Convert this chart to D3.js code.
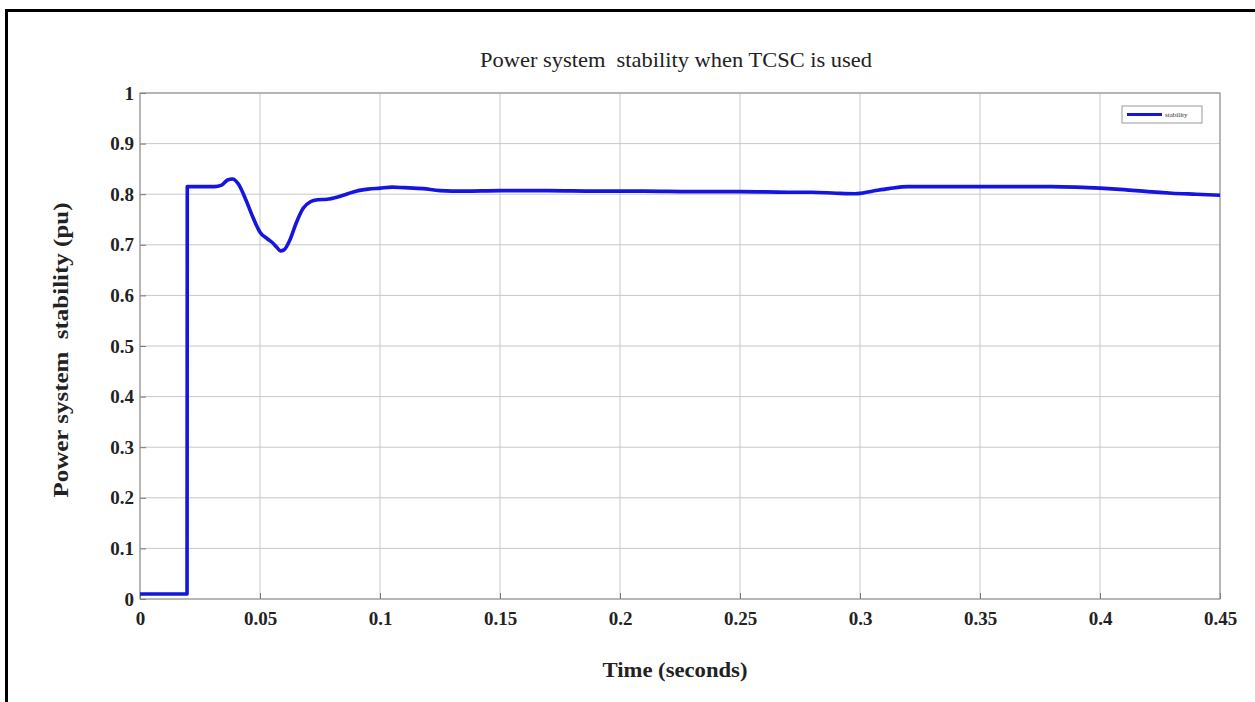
<!DOCTYPE html>
<html><head><meta charset="utf-8">
<script src="https://cdn.jsdelivr.net/npm/d3@7"></script>
<style>body{margin:0;background:#fff}svg{display:block}</style>
</head><body>
<svg id="c" width="1255" height="702"></svg>
<script>
const timeS = [0, 0.0196, 0.0197, 0.025, 0.031, 0.034, 0.0365, 0.0385, 0.041, 0.044, 0.047, 0.050, 0.053, 0.055, 0.057, 0.0585, 0.060, 0.0625, 0.065, 0.068, 0.071, 0.074, 0.078, 0.082, 0.086, 0.090, 0.095, 0.100, 0.105, 0.110, 0.118, 0.125, 0.135, 0.15, 0.17, 0.19, 0.21, 0.23, 0.25, 0.27, 0.28, 0.29, 0.298, 0.305, 0.312, 0.32, 0.34, 0.36, 0.38, 0.39, 0.40, 0.41, 0.42, 0.43, 0.44, 0.45];
const stability = [0.01, 0.01, 0.815, 0.815, 0.815, 0.818, 0.828, 0.830, 0.820, 0.790, 0.755, 0.725, 0.712, 0.705, 0.695, 0.688, 0.690, 0.710, 0.742, 0.772, 0.785, 0.789, 0.790, 0.794, 0.800, 0.806, 0.810, 0.812, 0.814, 0.813, 0.811, 0.807, 0.806, 0.807, 0.807, 0.806, 0.806, 0.805, 0.805, 0.804, 0.804, 0.802, 0.801, 0.806, 0.811, 0.815, 0.815, 0.815, 0.815, 0.814, 0.812, 0.809, 0.805, 0.802, 0.800, 0.798];
const xTicks = [0, 0.05, 0.1, 0.15, 0.2, 0.25, 0.3, 0.35, 0.4, 0.45];
const xTickLabels = ["0", "0.05", "0.1", "0.15", "0.2", "0.25", "0.3", "0.35", "0.4", "0.45"];
const yTicks = [0, 0.1, 0.2, 0.3, 0.4, 0.5, 0.6, 0.7, 0.8, 0.9, 1];
const yTickLabels = ["0", "0.1", "0.2", "0.3", "0.4", "0.5", "0.6", "0.7", "0.8", "0.9", "1"];
const seriesName = "stability";

const svg = d3.select("#c");
const L = 140, R = 1220, T = 93, B = 599;
const x = d3.scaleLinear().domain([0, 0.45]).range([L, R]);
const y = d3.scaleLinear().domain([0, 1]).range([B, T]);
const serif = "'Liberation Serif','Times New Roman',serif";

// outer frame
svg.append("rect").attr("x", 6.5).attr("y", 10.5).attr("width", 1260).attr("height", 720)
  .attr("fill", "none").attr("stroke", "#000").attr("stroke-width", 3);

// grid
const g = svg.append("g");
g.selectAll(".gx").data(xTicks).join("line")
  .attr("x1", d => x(d)).attr("x2", d => x(d)).attr("y1", T).attr("y2", B)
  .attr("stroke", "#c8c8c8").attr("stroke-width", 1);
g.selectAll(".gy").data(yTicks).join("line")
  .attr("x1", L).attr("x2", R).attr("y1", d => y(d)).attr("y2", d => y(d))
  .attr("stroke", "#c8c8c8").attr("stroke-width", 1);

// axes
const xAxis = d3.axisBottom(x).tickValues(xTicks).tickFormat((d, i) => xTickLabels[i]).tickSize(-6).tickPadding(13);
const yAxis = d3.axisLeft(y).tickValues(yTicks).tickFormat((d, i) => yTickLabels[i]).tickSize(-6).tickPadding(6);
const xa = svg.append("g").attr("transform", `translate(0,${B})`).call(xAxis);
const ya = svg.append("g").attr("transform", `translate(${L},0)`).call(yAxis);
[xa, ya].forEach(a => {
  a.select(".domain").remove();
  a.selectAll("line").attr("stroke", "#777");
  a.selectAll("text").attr("font-family", serif).attr("font-weight", "bold")
    .attr("font-size", 19).attr("fill", "#222");
});
// box
svg.append("rect").attr("x", L).attr("y", T).attr("width", R - L).attr("height", B - T)
  .attr("fill", "none").attr("stroke", "#888").attr("stroke-width", 1);

// line
const data = timeS.map((t, i) => [t, stability[i]]);
svg.append("path").datum(data)
  .attr("d", d3.line().x(d => x(d[0])).y(d => y(d[1])).curve(d3.curveMonotoneX))
  .attr("fill", "none").attr("stroke", "#1515e0").attr("stroke-width", 3.6)
  .attr("stroke-linejoin", "round");

// legend
const lg = svg.append("g");
lg.append("rect").attr("x", 1122).attr("y", 106).attr("width", 80).attr("height", 17)
  .attr("fill", "#fff").attr("stroke", "#999").attr("stroke-width", 1);
lg.append("line").attr("x1", 1127).attr("x2", 1162).attr("y1", 114.5).attr("y2", 114.5)
  .attr("stroke", "#1515e0").attr("stroke-width", 3);
lg.append("text").attr("x", 1165).attr("y", 117).attr("font-family", serif)
  .attr("font-size", 7).attr("fill", "#333").text(seriesName);

// title & labels
svg.append("text").attr("x", 676).attr("y", 67).attr("text-anchor", "middle")
  .attr("font-family", serif).attr("font-size", 22).attr("fill", "#222")
  .attr("textLength", 392).attr("lengthAdjust", "spacingAndGlyphs")
  .style("white-space", "pre")
  .text("Power system  stability when TCSC is used");
svg.append("text").attr("x", 675).attr("y", 677).attr("text-anchor", "middle")
  .attr("font-family", serif).attr("font-size", 22).attr("font-weight", "bold").attr("fill", "#222")
  .attr("textLength", 145).attr("lengthAdjust", "spacingAndGlyphs")
  .text("Time (seconds)");
svg.append("text").attr("transform", "translate(68,350) rotate(-90)").attr("text-anchor", "middle")
  .attr("font-family", serif).attr("font-size", 22).attr("font-weight", "bold").attr("fill", "#222")
  .attr("textLength", 295).attr("lengthAdjust", "spacingAndGlyphs")
  .style("white-space", "pre")
  .text("Power system  stability (pu)");
</script>
</body></html>
